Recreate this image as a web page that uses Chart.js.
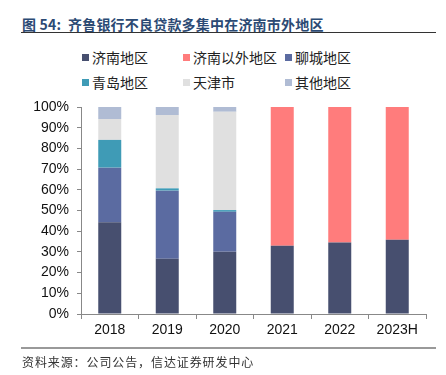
<!DOCTYPE html>
<html>
<head>
<meta charset="utf-8">
<script src="https://cdn.jsdelivr.net/npm/chart.js@4"></script>
<style>
  body { margin: 0; width: 446px; height: 375px; background: #fff; position: relative; overflow: hidden;
         font-family: "Liberation Sans", Arial, "Noto Sans CJK SC", sans-serif; }
  #title { position: absolute; left: 22px; top: 14px; font-size: 14px; font-weight: bold; color: #2b4a74;
           font-family: "Noto Sans CJK SC", sans-serif; letter-spacing: 0.2px; white-space: pre; }
  #titleLine { position: absolute; left: 21px; top: 32px; width: 415px; height: 1px; background: #333; }
  #footLine { position: absolute; left: 21px; top: 347px; width: 415px; height: 2px; background: #999; }
  #foot { position: absolute; left: 22px; top: 353px; font-size: 12px; color: #333; letter-spacing: 0.9px;
          font-family: "Noto Sans CJK SC", sans-serif; white-space: nowrap; }
  #legend { position: absolute; left: 0; top: 0; }
  .item { position: absolute; font-size: 14px; color: #222; font-family: "Noto Sans CJK SC", sans-serif;
          line-height: 18px; white-space: nowrap; }
  .item span { display: inline-block; width: 7px; height: 7px; margin-right: 3px; vertical-align: 2px; }
  #c { position: absolute; left: 0; top: 0; }
</style>
</head>
<body>
<div id="title">图 54:  齐鲁银行不良贷款多集中在济南市外地区</div>
<div id="titleLine"></div>
<div id="legend"></div>
<canvas id="c" width="446" height="375"></canvas>
<div id="footLine"></div>
<div id="foot">资料来源：公司公告，信达证券研发中心</div>
<script>
const years = ['2018', '2019', '2020', '2021', '2022', '2023H'];
const jinan      = [44.3, 26.7, 30.1, 33.0, 34.6, 35.9];
const outJinan   = [0, 0, 0, 67.0, 65.4, 64.1];
const liaocheng  = [26.4, 32.9, 19.3, 0, 0, 0];
const qingdao    = [13.4, 1.1, 0.8, 0, 0, 0];
const tianjin    = [10.1, 35.4, 47.5, 0, 0, 0];
const others     = [5.8, 3.9, 2.3, 0, 0, 0];
const yTicks = [0, 10, 20, 30, 40, 50, 60, 70, 80, 90, 100];

const series = [
  { label: '济南地区', data: jinan, color: '#474f6f' },
  { label: '济南以外地区', data: outJinan, color: '#ff7c7c' },
  { label: '聊城地区', data: liaocheng, color: '#5b6ba1' },
  { label: '青岛地区', data: qingdao, color: '#3f9bb6' },
  { label: '天津市', data: tianjin, color: '#e0e0e0' },
  { label: '其他地区', data: others, color: '#b0bcd4' }
];

// legend (2 rows x 3 columns)
const legendPos = [[82, 48], [183, 48], [285, 48], [82, 73], [183, 73], [285, 73]];
const legend = document.getElementById('legend');
series.forEach((s, i) => {
  const d = document.createElement('div');
  d.className = 'item';
  d.style.left = legendPos[i][0] + 'px';
  d.style.top = legendPos[i][1] + 'px';
  d.innerHTML = '<span style="background:' + s.color + '"></span>' + s.label;
  legend.appendChild(d);
});

// stacking order bottom to top
const order = [0, 2, 3, 4, 5, 1];
const ctx = document.getElementById('c').getContext('2d');
const chart = new Chart(ctx, {
  type: 'bar',
  data: {
    labels: years,
    datasets: order.map(i => ({
      label: series[i].label,
      data: series[i].data,
      backgroundColor: series[i].color,
      borderWidth: 0,
      barPercentage: 0.4,
      categoryPercentage: 1.0
    }))
  },
  options: {
    responsive: false,
    animation: false,
    layout: { padding: { left: 0, right: 20, top: 107, bottom: 21 } },
    plugins: { legend: { display: false }, tooltip: { enabled: false } },
    scales: {
      x: {
        stacked: true,
        afterFit: s => { s.height = 40; },
        grid: { offset: true, drawOnChartArea: false, tickLength: 5, color: '#888' },
        border: { color: '#888' },
        ticks: { color: '#111', font: { size: 14, family: '"Liberation Sans", Arial' }, padding: 3 }
      },
      y: {
        stacked: true,
        min: 0,
        max: 100,
        afterFit: s => { s.width = 81; },
        afterBuildTicks: s => { s.ticks = yTicks.map(v => ({ value: v })); },
        grid: { drawOnChartArea: false, tickLength: 4, color: '#888' },
        border: { color: '#888' },
        ticks: {
          color: '#111',
          font: { size: 14, family: '"Liberation Sans", Arial' },
          padding: 8,
          callback: v => v + '%'
        }
      }
    }
  }
});
</script>
</body>
</html>
